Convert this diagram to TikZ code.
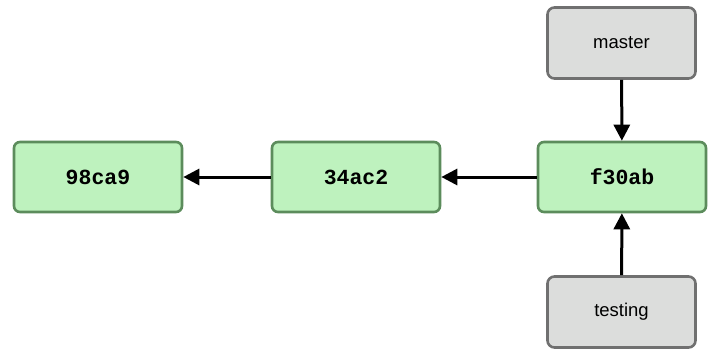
\documentclass[tikz,border=0pt]{standalone}
\usepackage{fontspec}
\setmainfont{Liberation Sans}
\newfontfamily\commitfont{Liberation Mono}
\usetikzlibrary{arrows.meta}
\definecolor{commitfill}{HTML}{BEF2BE}
\definecolor{commitline}{HTML}{5C8C5C}
\definecolor{reffill}{HTML}{DCDDDC}
\definecolor{refline}{HTML}{707070}
\begin{document}
\begin{tikzpicture}[x=1pt,y=-1pt,
  commit/.style={draw=commitline, fill=commitfill, line width=2.6pt,
    rounded corners=6pt, minimum width=168pt, minimum height=70pt,
    inner sep=0pt, font=\commitfont\bfseries\fontsize{21.5}{24}\selectfont},
  branchref/.style={draw=refline, fill=reffill, line width=2.6pt,
    rounded corners=7pt, minimum width=148pt, minimum height=71pt,
    inner sep=0pt, font=\fontsize{18.5}{22}\selectfont},
  link/.style={line width=3pt, -{Triangle[length=16pt,width=16pt]}}]
  \useasboundingbox (0,0) rectangle (708,350);
  \node[commit] (c1) at (98,177) {98ca9};
  \node[commit] (c2) at (356,177) {34ac2};
  \node[commit] (c3) at (622,177) {f30ab};
  \node[branchref] (master) at (621.5,43) {master};
  \node[branchref] (testing) at (621.5,312) {testing};
  \draw[link] (c2) -- (c1);
  \draw[link] (c3) -- (c2);
  \draw[link] (master) -- (c3);
  \draw[link] (testing) -- (c3);
\end{tikzpicture}
\end{document}
